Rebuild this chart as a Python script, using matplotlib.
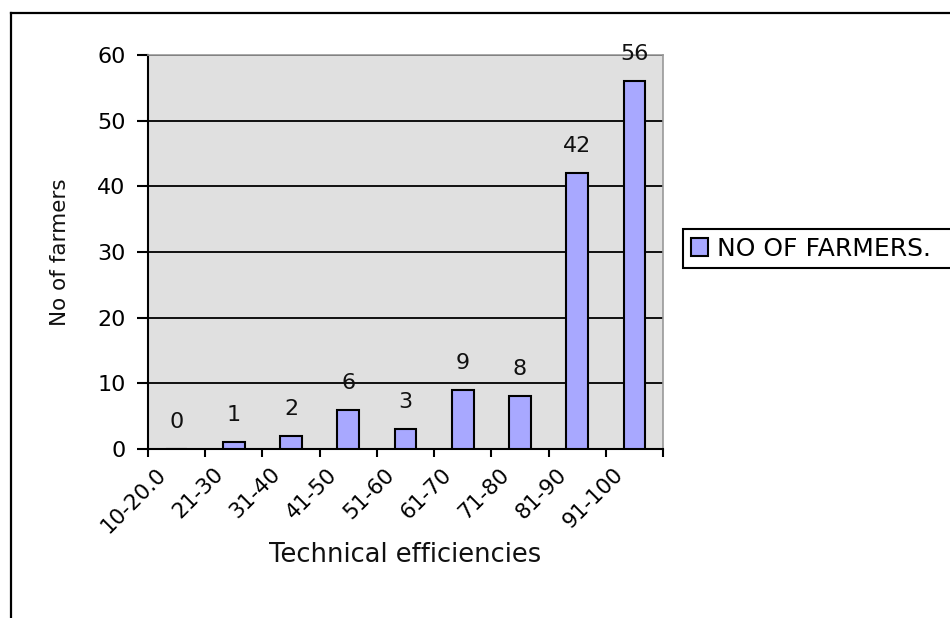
import numpy as np
import matplotlib
matplotlib.use("Agg")
import matplotlib.pyplot as plt
from matplotlib.patches import Patch
from matplotlib.lines import Line2D
from matplotlib.transforms import ScaledTranslation

# data
categories = ["10-20.0", "21-30", "31-40", "41-50", "51-60", "61-70", "71-80", "81-90", "91-100"]
farmers = [0, 1, 2, 6, 3, 9, 8, 42, 56]
yticks = [0, 10, 20, 30, 40, 50, 60]

bar_color = "#a8a8ff"
W, H = 950, 618

fig = plt.figure(figsize=(9.5, 6.18), dpi=100)
fig.patch.set_facecolor("white")

# outer frame (only left and top edges visible in the picture)
fig.add_artist(Line2D([11 / W, 11 / W], [1 - 13 / H, -0.1], color="black", lw=1.6,
                      transform=fig.transFigure))
fig.add_artist(Line2D([11 / W, 1.1], [1 - 13 / H, 1 - 13 / H], color="black", lw=1.6,
                      transform=fig.transFigure))

ax = fig.add_axes([148 / W, 1 - 449 / H, (663 - 148) / W, (449 - 55) / H])
ax.set_facecolor("#e0e0e0")

x = np.arange(len(categories))
ax.bar(x, farmers, width=0.38, color=bar_color, edgecolor="black", linewidth=1.5, zorder=3)

for xi, v in zip(x, farmers):
    ax.annotate(str(v), (xi, v), xytext=(0, 19.5), textcoords="offset points",
                ha="center", va="center", fontsize=16, color="#111111", zorder=4)

ax.set_xlim(-0.5, len(categories) - 0.5)
ax.set_ylim(0, 60)
ax.set_yticks(yticks)
ax.set_yticklabels([str(t) for t in yticks], fontsize=16)
ax.yaxis.grid(True, color="black", lw=1.3, zorder=1)
ax.set_axisbelow(True)
ax.tick_params(axis="y", length=8, width=1.5, pad=8, color="black")

# ticks at category boundaries, labels at centres
ax.set_xticks(np.arange(-0.5, len(categories)), minor=True)
ax.set_xticks(x)
ax.set_xticklabels(categories, fontsize=15.5, rotation=45, ha="right", va="center",
                   rotation_mode="anchor")
ax.tick_params(axis="x", which="major", length=0, pad=16)
ax.tick_params(axis="x", which="minor", length=6, width=1.5, color="black")
for lbl in ax.get_xticklabels():
    lbl.set_transform(lbl.get_transform() + ScaledTranslation(-14 / 100, 0, fig.dpi_scale_trans))

for s in ["left", "bottom"]:
    ax.spines[s].set_color("black")
    ax.spines[s].set_linewidth(1.5)
for s in ["top", "right"]:
    ax.spines[s].set_color("#999999")
    ax.spines[s].set_linewidth(1.2)

ax.set_xlabel("Technical efficiencies", fontsize=18.5, color="#111111")
ax.xaxis.set_label_coords(0.5, -0.236)
ax.set_ylabel("No of farmers", fontsize=15.5, labelpad=20, color="#111111")

handle = Patch(facecolor=bar_color, edgecolor="black", linewidth=1.5)
leg = fig.legend([handle], ["NO OF FARMERS."], loc="upper left",
                 bbox_to_anchor=(683 / W, 1 - 270 / H, (975 - 683) / W, 41 / H),
                 mode="expand", borderaxespad=0, fancybox=False, fontsize=18,
                 handlelength=0.7, handleheight=0.7, handletextpad=0.35,
                 borderpad=0.3, framealpha=1)
leg.get_frame().set_edgecolor("black")
leg.get_frame().set_linewidth(1.5)

fig.savefig("out.png", dpi=100)
